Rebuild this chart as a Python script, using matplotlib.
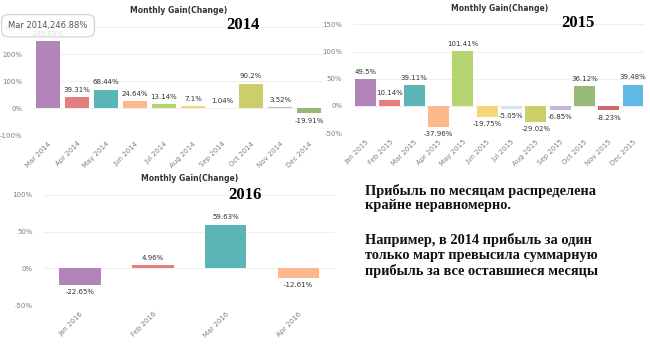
import matplotlib
matplotlib.use('Agg')
import matplotlib.pyplot as plt
import numpy as np

# data
months_2014 = ['Mar 2014', 'Apr 2014', 'May 2014', 'Jun 2014', 'Jul 2014', 'Aug 2014',
               'Sep 2014', 'Oct 2014', 'Nov 2014', 'Dec 2014']
gain_2014 = [246.88, 39.31, 68.44, 24.64, 13.14, 7.1, 1.04, 90.2, 3.52, -19.91]

months_2015 = ['Jan 2015', 'Feb 2015', 'Mar 2015', 'Apr 2015', 'May 2015', 'Jun 2015',
               'Jul 2015', 'Aug 2015', 'Sep 2015', 'Oct 2015', 'Nov 2015', 'Dec 2015']
gain_2015 = [49.5, 10.14, 39.11, -37.96, 101.41, -19.75, -5.05, -29.02, -6.85, 36.12, -8.23, 39.48]

months_2016 = ['Jan 2016', 'Feb 2016', 'Mar 2016', 'Apr 2016']
gain_2016 = [-22.65, 4.96, 59.63, -12.61]

yticks_2014 = [-100, 0, 100, 200, 300]
yticks_2015 = [-50, 0, 50, 100, 150]
yticks_2016 = [-50, 0, 50, 100]

palette = ['#b384b9', '#e57f7f', '#5cb5b5', '#fdb98b', '#b5d571', '#f6d676',
           '#d5e3f2', '#cdcd6a', '#c3b5dd', '#99b97a', '#d06868', '#60b8e6']

note_lines = ['Прибыль по месяцам распределена',
              'крайне неравномерно.',
              'Например, в 2014 прибыль за один',
              'только март превысила суммарную',
              'прибыль за все оставшиеся месяцы']
note_y = [191, 205.5, 240, 255.5, 271]

W, H = 650, 348
fig = plt.figure(figsize=(W / 100, H / 100), dpi=100)
fig.patch.set_facecolor('white')


def px_axes(left, top, right, bottom):
    return fig.add_axes([left / W, 1 - bottom / H, (right - left) / W, (bottom - top) / H])


def gain_chart(ax, months, gains, yticks, width, year, year_xy):
    x = np.arange(len(months))
    ax.bar(x, gains, width=width, color=palette[:len(months)], zorder=2)
    for xi, v in zip(x, gains):
        if v >= 0:
            ax.annotate(f'{v:g}%', (xi, v), xytext=(0, 3), textcoords='offset points',
                        ha='center', va='bottom', fontsize=5, color='#333333')
        else:
            ax.annotate(f'{v:g}%', (xi, v), xytext=(0, -3), textcoords='offset points',
                        ha='center', va='top', fontsize=5, color='#333333')
    ax.set_xlim(-0.5, len(months) - 0.5)
    ax.set_ylim(yticks[0], yticks[-1])
    ax.set_yticks(yticks)
    ax.set_yticklabels([f'{t}%' for t in yticks])
    ax.set_xticks(x)
    ax.set_xticklabels(months, rotation=45, ha='right', rotation_mode='anchor')
    ax.tick_params(length=0, labelsize=5, colors='#808080', pad=4)
    ax.tick_params(axis='y', pad=8)
    for s in ax.spines.values():
        s.set_visible(False)
    ax.grid(axis='y', color='#ececec', linewidth=0.6, zorder=0)
    ax.set_title('Monthly Gain(Change)', fontsize=5.5, color='#333333',
                 fontweight='bold', pad=10)
    fig.text(year_xy[0] / W, 1 - year_xy[1] / H, year, fontsize=12, fontweight='bold',
             family='Liberation Serif', ha='center', va='center', color='black')


ax1 = px_axes(33.5, 27, 323.5, 135)
gain_chart(ax1, months_2014, gain_2014, yticks_2014, 0.83, '2014', (243, 25))
# tooltip over the March bar, half see-through like the original
ax1.annotate('Mar 2014,246.88%', (0, gain_2014[0]), xytext=(0, 8), textcoords='offset points',
             ha='center', va='bottom', fontsize=6, color='#555555',
             bbox=dict(boxstyle='round,pad=0.8', fc=(1, 1, 1, 0.85), ec='#cfcfcf', lw=0.8),
             zorder=5, annotation_clip=False)

ax2 = px_axes(353.3, 24.4, 645.2, 133.2)
gain_chart(ax2, months_2015, gain_2015, yticks_2015, 0.86, '2015', (578, 23))

ax3 = px_axes(43.6, 195, 335, 305)
gain_chart(ax3, months_2016, gain_2016, yticks_2016, 0.57, '2016', (245, 195))

for line, y in zip(note_lines, note_y):
    fig.text(365 / W, 1 - y / H, line, fontsize=10.4, fontweight='bold',
             family='Liberation Serif', ha='left', va='center', color='#111111')

fig.savefig('out.png', dpi=100)
